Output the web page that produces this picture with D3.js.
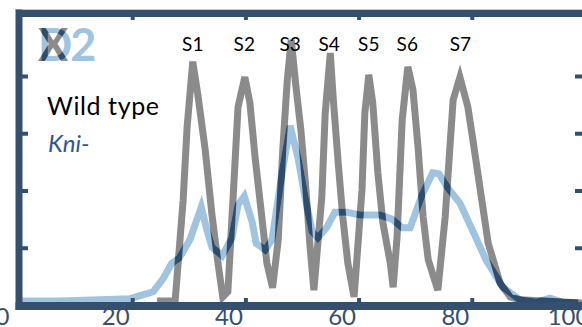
<!DOCTYPE html>
<html><head><meta charset="utf-8">
<script src="https://cdn.jsdelivr.net/npm/d3@7"></script>
<style>html,body{margin:0;padding:0;background:#fff;overflow:hidden}</style>
</head><body><svg id="c" width="582" height="327"></svg>
<script>
// ---- data (x: position 0-100, y: expression, arbitrary units) ----
const wtX = [24.4,27.0,27.6,29.0,29.7,30.7,31.6,32.9,34.1,35.2,36.0,36.9,37.8,38.7,39.9,40.8,41.7,42.9,43.8,44.8,45.8,46.6,47.4,48.1,48.9,49.8,50.7,51.4,52.1,53.5,54.1,55.0,55.5,56.4,57.2,58.1,59.2,60.6,61.1,61.8,62.5,63.4,64.3,65.6,66.1,66.8,67.7,68.7,69.6,70.5,71.4,72.3,74.0,75.3,76.7,77.9,79.3,80.2,81.5,82.9,85.0,86.8,88.5,100];
const wtY = [0.07,0.07,0.09,1.83,3.11,4.25,3.67,2.71,1.57,0.70,0.14,0.23,1.83,3.46,3.98,3.53,2.59,1.54,0.73,0.30,1.14,2.71,3.93,4.63,3.84,3.06,2.01,1.05,0.26,1.89,3.35,4.40,3.63,2.48,1.54,0.73,0.14,2.01,3.35,4.02,3.53,2.31,1.43,0.73,0.31,1.19,3.23,4.16,3.76,2.76,1.54,0.79,0.26,1.54,3.58,3.98,3.46,2.88,2.01,1.08,0.38,0.14,0.09,0.03];
const kniX = [0.5,7.2,14.3,19.6,23.7,25.4,27.0,28.3,30.2,32.2,33.2,34.1,35.9,37.6,38.7,39.8,41.2,41.9,43.5,44.7,46.5,47.9,49.3,50.5,51.8,52.8,54.4,55.8,58.0,60.3,63.8,65.9,67.7,69.1,71.2,73.1,74.2,75.8,77.9,80.0,82.5,85.5,88.5,91.5,93.8,95.9,98.8];
const kniY = [0.07,0.07,0.09,0.11,0.23,0.45,0.73,0.82,1.14,1.71,1.31,1.01,0.86,1.17,1.75,1.90,1.45,1.08,0.96,1.14,2.32,3.13,2.57,1.90,1.28,1.17,1.36,1.62,1.62,1.57,1.57,1.50,1.35,1.35,1.92,2.31,2.29,2.04,1.78,1.33,0.79,0.31,0.09,0.05,0.12,0.05,0.04];
const xTickLabels = [0,20,40,60,80,100];
const frameTicksX = [20,40,60,80];
const frameTicksY = [1,2,3,4];
const stripeLabels = ["S1","S2","S3","S4","S5","S6","S7"];
const stripePeakX = [30.7,39.8,47.9,54.8,61.8,68.6,78.0];
const seriesNames = ["Wild type","Kni-"];
const panelLetter = "X", panelNumber = "2", panelBack = "D";

// ---- styles ----
const NAVY = "#34506e", GRAY = "#8b8b8b", LBLUE = "#a0c3e0", OVER = "#2e4d6d";

const svg = d3.select("#c");
svg.append("rect").attr("width",582).attr("height",327).attr("fill","#fff");
const x = d3.scaleLinear().domain([0,100]).range([19,585]);
const y = d3.scaleLinear().domain([0,5.1]).range([305,13]);

const wt = wtX.map((v,i)=>[v,wtY[i]]);
const kni = kniX.map((v,i)=>[v,kniY[i]]);
const line = d3.line().x(d=>x(d[0])).y(d=>y(d[1])).curve(d3.curveLinear);

const defs = svg.append("defs");
const m = defs.append("mask").attr("id","gm").attr("maskUnits","userSpaceOnUse")
  .attr("x",0).attr("y",0).attr("width",582).attr("height",327);
m.append("rect").attr("width",582).attr("height",327).attr("fill","#000");
m.append("path").attr("d",line(wt)).attr("fill","none").attr("stroke","#fff").attr("stroke-width",7);

const pm = defs.append("mask").attr("id","pm").attr("maskUnits","userSpaceOnUse")
  .attr("x",0).attr("y",0).attr("width",582).attr("height",327);
pm.append("rect").attr("width",582).attr("height",327).attr("fill","#000");

// lines
svg.append("path").attr("d",line(wt)).attr("fill","none").attr("stroke",GRAY).attr("stroke-width",7);
svg.append("path").attr("d",line(kni)).attr("fill","none").attr("stroke",LBLUE).attr("stroke-width",7);
svg.append("path").attr("d",line(kni)).attr("fill","none").attr("stroke",OVER).attr("stroke-width",7).attr("mask","url(#gm)");

// panel label
const PF = "Lato, 'Open Sans', sans-serif";
svg.append("text").attr("x",38).attr("y",61).attr("font-family",PF).attr("font-weight",700).attr("font-size",45).attr("fill",LBLUE).text(panelBack);
pm.append("text").attr("x",38).attr("y",61).attr("font-family",PF).attr("font-weight",700).attr("font-size",45).attr("fill","#fff").text(panelBack);
const pl = svg.append("text").attr("x",38).attr("y",61).attr("font-family",PF).attr("font-weight",700).attr("font-size",45);
pl.append("tspan").attr("fill",GRAY).text(panelLetter);
pl.append("tspan").attr("fill",LBLUE).attr("dx",2).text(panelNumber);
svg.append("text").attr("x",38).attr("y",61).attr("font-family",PF).attr("font-weight",700).attr("font-size",45).attr("fill",OVER).attr("mask","url(#pm)").text(panelLetter);

// stripe labels
svg.append("g").selectAll("text").data(stripeLabels).join("text")
  .attr("x",(d,i)=>x(stripePeakX[i])).attr("y",51).attr("text-anchor","middle")
  .attr("font-family",PF).attr("font-size",19).attr("fill","#000").text(d=>d);

// legend texts
svg.append("text").attr("x",47).attr("y",115).attr("font-family",PF).attr("font-size",25).attr("letter-spacing",0.6).attr("fill","#000").text(seriesNames[0]);
svg.append("text").attr("x",48).attr("y",152).attr("font-family",PF).attr("font-size",24).attr("font-style","italic").attr("fill","#2f5597").text(seriesNames[1]);

// frame / axes
svg.append("line").attr("x1",15).attr("x2",582).attr("y1",9.5).attr("y2",9.5).attr("stroke","#c8c8c8").attr("stroke-width",1);
function style(g, w){
  g.select(".domain").attr("stroke",NAVY).attr("stroke-width",w);
  g.selectAll(".tick line").attr("stroke",NAVY).attr("stroke-width",4);
  g.selectAll(".tick text").remove();
}
const gTop = svg.append("g").attr("transform",`translate(0,${y(5.1)})`)
  .call(d3.axisBottom(x).tickValues(frameTicksX).tickSize(7).tickSizeOuter(0).tickFormat(""));
style(gTop,7);
const gR = svg.append("g").attr("transform",`translate(${x(100)},0)`)
  .call(d3.axisLeft(y).tickValues(frameTicksY).tickSize(10).tickSizeOuter(0).tickFormat(""));
style(gR,7);
const gL = svg.append("g").attr("transform",`translate(${x(0)},0)`)
  .call(d3.axisRight(y).tickValues(frameTicksY).tickSize(9).tickSizeOuter(0).tickFormat(""));
style(gL,7);
gL.select(".domain").attr("d",`M0,${y(5.1)-3.5}V${y(0)+5}`);
const gB = svg.append("g").attr("transform",`translate(0,306)`)
  .call(d3.axisTop(x).tickValues(frameTicksX).tickSize(8).tickSizeOuter(0).tickFormat(""));
style(gB,8);
gB.select(".domain").attr("d",`M${x(0)-3.5},0H${x(100)+4}`);

// tick labels (offset as in source)
const gLab = svg.append("g").attr("transform",`translate(0,306)`)
  .call(d3.axisBottom(x).tickValues(xTickLabels).tickSize(0).tickFormat(d3.format("d")));
gLab.select(".domain").remove();
gLab.selectAll(".tick text").attr("x",-17).attr("y",19).attr("dy",0)
  .attr("font-family",PF).attr("font-size",24).attr("fill",NAVY);
</script></body></html>
